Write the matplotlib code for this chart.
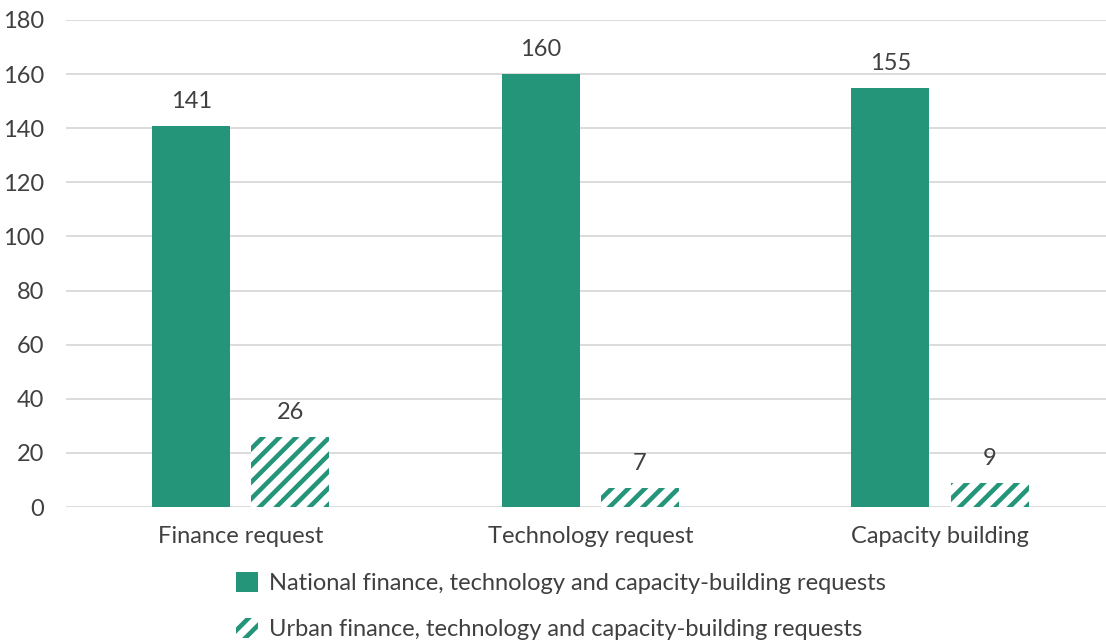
import numpy as np
import matplotlib
matplotlib.use('Agg')
import matplotlib.pyplot as plt

categories = ['Finance request', 'Technology request', 'Capacity building']
national = [141, 160, 155]
urban = [26, 7, 9]
legend_labels = ['National finance, technology and capacity-building requests',
                 'Urban finance, technology and capacity-building requests']

green = '#25957a'
txt = '#404040'

plt.rcParams['font.family'] = ['Lato', 'DejaVu Sans']
plt.rcParams['hatch.linewidth'] = 3.3
plt.rcParams['hatch.color'] = green

fig = plt.figure(figsize=(11.06, 6.44), dpi=100)
ax = fig.add_axes([66/1106, 137/644, 1040/1106, 487/644])

x = np.arange(len(categories))
w = 0.223
off = 0.142
b1 = ax.bar(x - off, national, w, color=green, label=legend_labels[0], zorder=3)
b2 = ax.bar(x + off, urban, w, color='white', edgecolor=green, linewidth=0,
            hatch='//', label=legend_labels[1], zorder=3)

for bars, vals in ((b1, national), (b2, urban)):
    for r, v in zip(bars, vals):
        ax.annotate(str(v), (r.get_x() + r.get_width() / 2, v), xytext=(0, 10),
                    textcoords='offset points', ha='center', va='bottom',
                    fontsize=17, color=txt)

ax.set_ylim(0, 180)
ax.set_yticks(range(0, 181, 20))
ax.set_xlim(-0.5, 2.475)
ax.set_xticks(x)
ax.set_xticklabels(categories)
ax.grid(axis='y', color='#d9d9d9', linewidth=1.3, zorder=0)
for s in ax.spines.values():
    s.set_visible(False)
ax.tick_params(axis='both', length=0, labelsize=17, colors=txt)
ax.tick_params(axis='y', pad=16)
ax.tick_params(axis='x', pad=14)

fig.legend(handles=[b1, b2], labels=legend_labels, loc='upper left',
           bbox_to_anchor=(236/1106, 1 - 572/644), frameon=False,
           fontsize=17, handlelength=0.93, handleheight=0.93, handletextpad=0.45,
           labelspacing=1.0, borderpad=0, borderaxespad=0, labelcolor=txt)

fig.savefig('out.png', dpi=100)
